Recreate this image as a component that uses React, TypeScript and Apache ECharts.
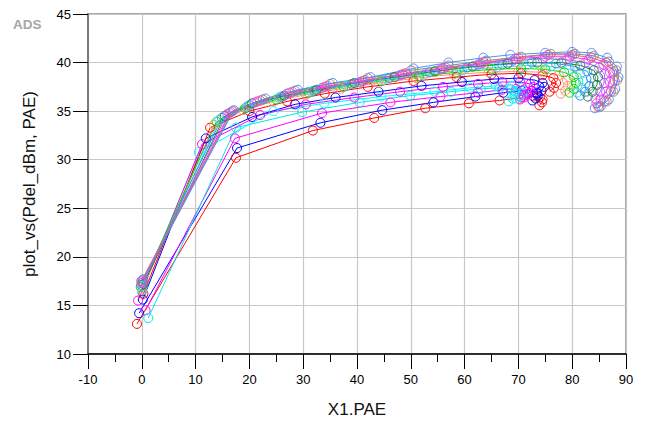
import React, { useEffect, useRef } from "react";
import * as echarts from "echarts";

const X_MIN = -10;
const X_MAX = 90;
const X_STEP = 10;
const Y_MIN = 10;
const Y_MAX = 45;
const Y_STEP = 5;

const X_NAME = "X1.PAE";
const Y_NAME = "plot_vs(Pdel_dBm, PAE)";

const COLORS = [
  "#ff0000", "#0000ff", "#ff00ff", "#00e8e8", "#00ffff", "#ff00ff",
  "#0000ff", "#ff0000", "#ff9070", "#00e000", "#40d8e8", "#3090ff",
  "#208020", "#9966ff", "#ff30ff", "#ff50a0", "#9c8860", "#5090ff",
];

const C0 = [[-0.9,13.1],[17.5,30.2],[31.8,33.0],[43.2,34.3],[52.7,35.3],[60.8,35.8],[66.5,36.1],[70.5,36.4],[72.8,36.5],[74.0,36.4],[74.5,36.2],[74.4,35.9],[73.9,35.6]];
const C1 = [[-0.5,14.2],[17.7,31.2],[33.2,33.8],[44.7,35.1],[54.2,35.9],[62.0,36.5],[67.2,36.9],[70.6,37.1],[72.5,37.1],[73.4,36.9],[73.6,36.6],[73.2,36.3],[72.6,36.1]];
const C2 = [[0.7,14.5],[17.3,32.2],[33.5,34.8],[46.2,35.9],[55.5,36.5],[62.5,36.9],[67.0,37.2],[69.6,37.3],[71.0,37.2],[71.6,37.0],[71.5,36.7],[71.0,36.4],[70.3,36.2]];
const C3 = [[1.2,13.7],[17.5,33.3],[29.8,34.9],[40.5,35.9],[49.9,36.6],[57.5,37.0],[63.0,37.3],[66.5,37.4],[68.5,37.3],[69.4,37.0],[69.4,36.7],[68.9,36.3],[68.2,36.0]];
const C4 = [[0.0,16.4],[10.6,30.8],[24.5,35.0],[33.9,35.8],[44.5,36.5],[54.4,37.0],[61.0,37.4],[65.8,37.6],[68.8,37.6],[70.5,37.4],[71.0,37.1],[70.8,36.8],[70.2,36.5],[69.5,36.3]];
const C5 = [[-0.7,15.5],[11.2,31.6],[22.0,34.6],[30.5,35.7],[39.5,36.4],[48.0,37.0],[56.0,37.5],[62.5,37.8],[67.0,38.0],[70.3,38.0],[72.2,37.8],[72.8,37.5],[72.5,37.1],[71.8,36.8],[71.0,36.6]];
const C6 = [[0.2,15.6],[11.9,32.2],[20.5,34.4],[28.5,35.7],[36.0,36.4],[44.0,37.0],[52.0,37.6],[59.5,38.0],[65.5,38.3],[70.0,38.4],[73.0,38.2],[74.5,37.9],[74.8,37.5],[74.3,37.1],[73.5,36.8]];
const C7 = [[0.3,16.2],[12.7,33.3],[20.0,35.0],[27.0,36.0],[34.0,36.8],[42.0,37.5],[50.5,38.1],[58.5,38.5],[65.0,38.8],[70.5,38.9],[74.5,38.7],[76.5,38.4],[77.0,37.9],[76.6,37.4],[75.8,37.0]];
const C8 = [[0.1,16.6],[13.4,33.6],[18.8,35.1],[24.5,36.0],[30.5,36.7],[37.0,37.3],[44.0,37.9],[51.0,38.4],[58.0,38.8],[64.5,39.0],[70.0,39.1],[74.5,39.0],[77.5,38.7],[79.0,38.2],[79.2,37.6],[78.7,37.1],[77.9,36.8]];
const C9 = [[-0.2,16.9],[13.9,33.9],[19.2,35.3],[25.0,36.2],[31.0,36.9],[37.5,37.5],[44.5,38.1],[51.5,38.6],[58.5,39.0],[65.0,39.3],[70.5,39.4],[75.0,39.3],[78.5,39.0],[80.3,38.5],[80.7,37.9],[80.3,37.3],[79.5,36.9]];
const C10 = [[0.2,17.0],[14.4,34.1],[19.6,35.5],[25.5,36.4],[31.5,37.0],[38.0,37.6],[45.0,38.2],[52.5,38.8],[59.5,39.2],[66.0,39.5],[71.5,39.7],[76.0,39.6],[79.5,39.3],[81.5,38.8],[82.0,38.1],[81.7,37.4],[80.9,36.9]];
const C11 = [[-0.1,17.1],[14.9,34.3],[20.0,35.6],[26.0,36.5],[32.0,37.1],[39.0,37.8],[46.0,38.4],[53.5,39.0],[60.5,39.5],[67.0,39.8],[72.5,40.0],[77.0,39.9],[80.5,39.6],[82.8,39.1],[83.5,38.4],[83.2,37.6],[82.4,37.0],[81.5,36.6]];
const C12 = [[0.3,17.2],[15.4,34.5],[20.5,35.8],[26.5,36.6],[32.5,37.2],[39.5,37.9],[47.0,38.5],[54.5,39.1],[61.5,39.6],[68.0,39.9],[73.5,40.0],[78.0,40.0],[81.5,39.7],[84.0,39.2],[84.8,38.5],[84.6,37.7],[83.8,37.0],[82.9,36.5]];
const C13 = [[0.0,17.3],[15.9,34.7],[21.0,35.9],[27.0,36.8],[33.5,37.4],[40.5,38.0],[48.0,38.7],[55.5,39.3],[62.5,39.8],[69.0,40.2],[74.5,40.4],[79.0,40.3],[82.5,40.0],[85.0,39.5],[86.0,38.8],[85.9,37.9],[85.2,37.0],[84.3,36.3]];
const C14 = [[0.2,17.4],[16.3,34.8],[21.5,36.0],[27.5,36.9],[34.0,37.5],[41.0,38.1],[48.5,38.8],[56.0,39.4],[63.0,39.9],[69.5,40.4],[75.0,40.6],[79.5,40.6],[83.0,40.3],[85.8,39.8],[87.0,39.0],[87.0,38.0],[86.3,37.0],[85.3,36.2],[84.5,35.8]];
const C15 = [[-0.1,17.5],[16.6,34.9],[22.0,36.1],[28.0,37.0],[34.5,37.6],[41.5,38.2],[49.0,38.9],[56.5,39.5],[63.5,40.0],[70.0,40.5],[75.5,40.8],[80.0,40.8],[83.5,40.5],[86.3,40.0],[87.8,39.1],[87.9,38.1],[87.2,37.0],[86.0,36.0],[84.8,35.5]];
const C16 = [[0.1,17.6],[16.9,35.0],[22.5,36.2],[28.5,37.1],[35.0,37.8],[42.0,38.4],[50.0,39.2],[57.0,39.7],[64.0,40.2],[70.5,40.6],[76.0,40.9],[80.5,40.9],[84.0,40.7],[86.8,40.1],[88.2,39.2],[88.4,38.2],[87.7,37.0],[86.4,36.0],[85.0,35.4]];
const C17 = [[0.3,17.7],[17.1,35.1],[23.0,36.3],[29.0,37.2],[35.5,37.9],[42.5,38.5],[50.5,39.4],[57.0,40.0],[63.5,40.5],[68.5,40.8],[75.0,41.0],[80.0,41.1],[83.6,41.0],[86.5,40.5],[88.3,39.6],[88.6,38.5],[88.0,37.3],[86.8,36.2],[85.3,35.5],[84.2,35.3]];

const CURVES = [C0, C1, C2, C3, C4, C5, C6, C7, C8, C9, C10, C11, C12, C13, C14, C15, C16, C17];

const FONT = "'Liberation Sans', Arial, sans-serif";

export default function App() {
  const ref = useRef<HTMLDivElement>(null);
  useEffect(() => {
    if (!ref.current) return;
    const chart = echarts.init(ref.current, null, { renderer: "svg" });
    const series = CURVES.map((pts, i) => ({
      type: "line",
      data: pts,
      symbol: "circle",
      symbolSize: 9,
      showSymbol: true,
      lineStyle: { color: COLORS[i], width: 1 },
      itemStyle: { color: "rgba(0,0,0,0)", borderColor: COLORS[i], borderWidth: 1 },
      emphasis: { disabled: true },
      z: 3,
    }));
    chart.setOption({
      animation: false,
      textStyle: { fontFamily: FONT },
      graphic: [
        {
          type: "text",
          left: 13,
          top: 17,
          style: { text: "ADS", fill: "#a6a6a6", fontSize: 13.5, fontWeight: "bold", fontFamily: FONT },
        },
      ],
      grid: {
        left: 88,
        right: 19,
        top: 14,
        bottom: 76,
        show: true,
        borderColor: "#8c8c8c",
        borderWidth: 1.5,
        backgroundColor: "transparent",
      },
      xAxis: {
        type: "value",
        min: X_MIN,
        max: X_MAX,
        interval: X_STEP,
        name: X_NAME,
        nameLocation: "middle",
        nameGap: 47,
        nameTextStyle: { fontSize: 17, color: "#111", fontFamily: FONT },
        axisLine: { show: true, onZero: false, lineStyle: { color: "#000", width: 1.5 } },
        axisTick: { show: true, inside: false, length: 15, lineStyle: { color: "#000", width: 1 } },
        minorTick: { show: true, splitNumber: 2, length: 8, lineStyle: { color: "#000", width: 1 } },
        splitLine: { show: true, lineStyle: { color: "#c8c8c8", width: 1.2 } },
        axisLabel: { fontSize: 13, color: "#000", margin: 19, fontFamily: FONT },
      },
      yAxis: {
        type: "value",
        min: Y_MIN,
        max: Y_MAX,
        interval: Y_STEP,
        name: Y_NAME,
        nameLocation: "middle",
        nameGap: 50,
        nameTextStyle: { fontSize: 17, color: "#111", fontFamily: FONT },
        axisLine: { show: true, onZero: false, lineStyle: { color: "#7a7a7a", width: 2 } },
        axisTick: { show: true, inside: false, length: 15, lineStyle: { color: "#000", width: 1 } },
        splitLine: { show: true, lineStyle: { color: "#c8c8c8", width: 1.2 } },
        axisLabel: { fontSize: 13, color: "#000", margin: 17, fontFamily: FONT },
      },
      series,
    });
    return () => chart.dispose();
  }, []);
  return (
    <div
      ref={ref}
      style={{ position: "fixed", left: 0, top: 0, width: 645, height: 430, background: "#fff" }}
    />
  );
}
